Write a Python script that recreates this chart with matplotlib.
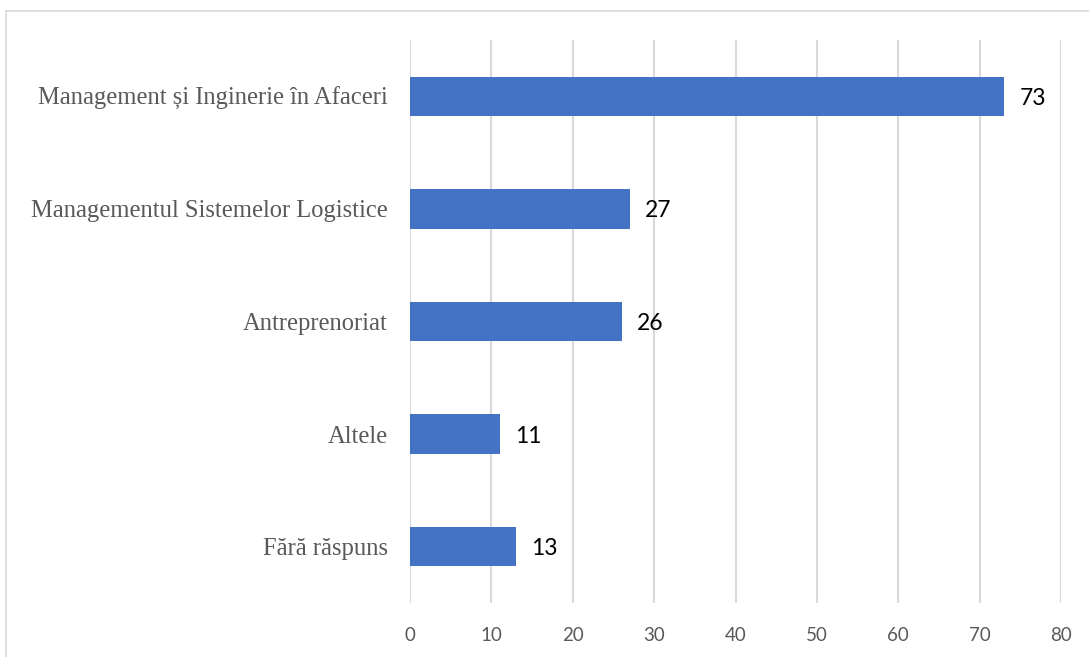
import matplotlib
matplotlib.use("Agg")
from matplotlib import pyplot as plt
from matplotlib.lines import Line2D

# datele graficului
categorii = ["Management și Inginerie în Afaceri",
             "Managementul Sistemelor Logistice",
             "Antreprenoriat",
             "Altele",
             "Fără răspuns"]
valori = [73, 27, 26, 11, 13]
ticks_x = [0, 10, 20, 30, 40, 50, 60, 70, 80]

fig = plt.figure(figsize=(10.89, 6.57), dpi=100)
ax = fig.add_axes([410 / 1089, 1 - 603 / 657, 651 / 1089, 563 / 657])

pozitii = list(range(len(categorii)))
ax.barh(pozitii, valori, height=0.35, color="#4472C4", zorder=3)

for p, v in zip(pozitii, valori):
    ax.annotate(str(v), (v, p), xytext=(11, -1.5), textcoords="offset points",
                va="center", ha="left", fontsize=16.5, family="Lato", color="black")

ax.set_xlim(0, 80)
ax.set_ylim(len(categorii) - 0.5, -0.5)
ax.set_xticks(ticks_x)
ax.set_yticks(pozitii)
ax.set_yticklabels(categorii, family="Liberation Serif", fontsize=17.7, color="#595959")
for lbl in ax.get_xticklabels():
    lbl.set_family("Lato")
    lbl.set_fontsize(13.5)
    lbl.set_color("#595959")
ax.tick_params(axis="both", length=0)
ax.tick_params(axis="y", pad=16)
ax.tick_params(axis="x", pad=17)
ax.grid(axis="x", color="#D9D9D9", linewidth=1.5, zorder=0)
for s in ax.spines.values():
    s.set_visible(False)

# chenarul graficului (taiat la dreapta si jos)
fig.add_artist(Line2D([6 / 1089, 6 / 1089], [0, 1 - 11 / 657], color="#D9D9D9", linewidth=1.2))
fig.add_artist(Line2D([6 / 1089, 1], [1 - 11 / 657, 1 - 11 / 657], color="#D9D9D9", linewidth=1.2))

fig.savefig("out.png", dpi=100)
